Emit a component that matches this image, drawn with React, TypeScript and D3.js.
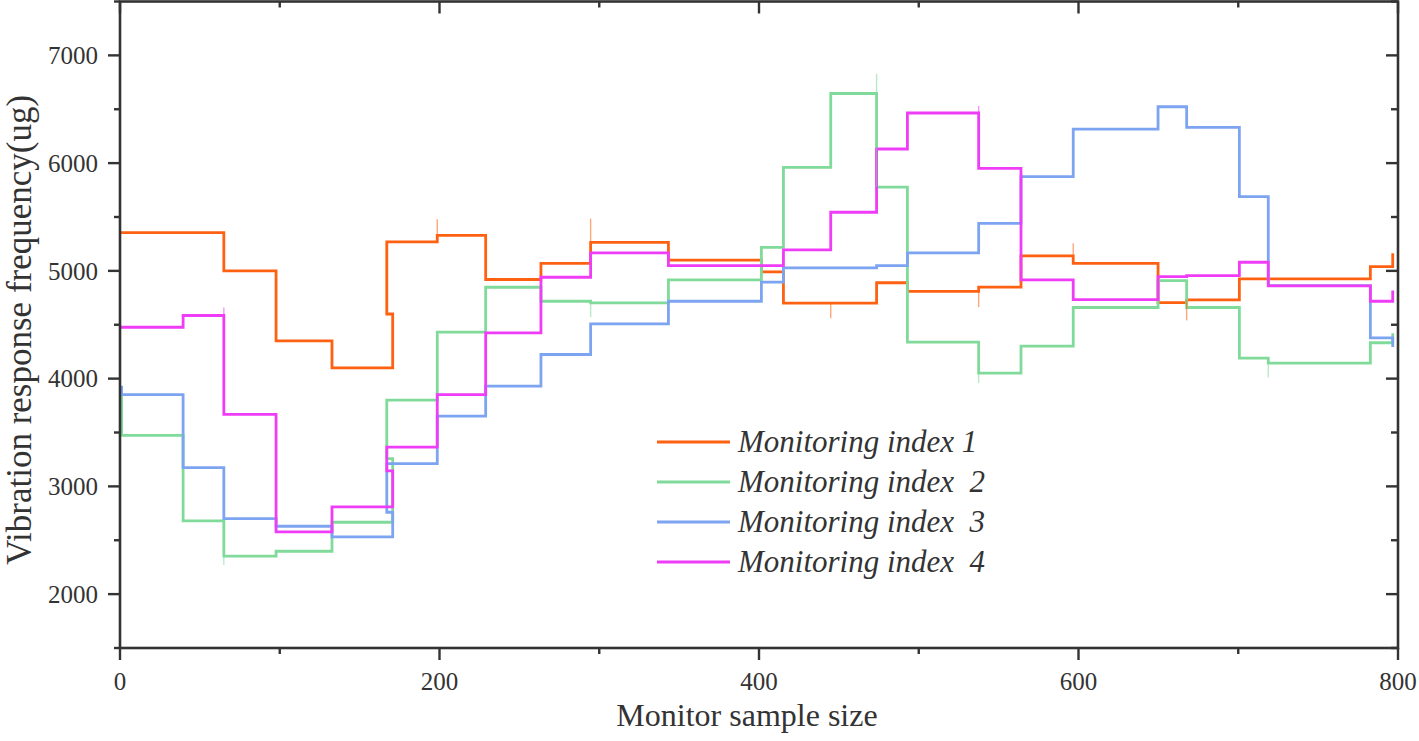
import React from "react";
import * as d3 from "d3";

// step positions along the sample axis (shared by all four series)
const stepX = [
  0, 1, 39.5, 65, 97.7, 132.7, 170.7, 167, 198.6, 228.9, 263.5, 294.6, 343.3,
  401.5, 415.3, 444.9, 473.6, 492.9, 537.5, 564, 596.7, 649.8, 667.7, 700.7,
  718.8, 782.7, 796.7,
];

const index1 = [
  5355, 5355, 5355, 5000, 4350, 4100, 4600, 5270, 5330, 4920, 5070, 5265, 5100,
  4990, 4700, 4700, 4890, 4810, 4850, 5140, 5070, 4706, 4731, 4926, 4926, 5040,
  5163,
];
const index2 = [
  3860, 3474, 2680, 2352, 2398, 2667, 3258, 3800, 4431, 4848, 4718, 4703, 4917,
  5219, 5960, 6646, 5778, 4339, 4051, 4302, 4660, 4910, 4660, 4190, 4144, 4333,
  4420,
];
const index3 = [
  3921, 3851, 3174, 2701, 2630, 2531, 2760, 3211, 3652, 3930, 4224, 4509, 4718,
  4895, 5028, 5028, 5049, 5167, 5441, 5874, 6316, 6523, 6331, 5689, 4864, 4379,
  4293,
];
const index4 = [
  4477, 4477, 4586, 3668, 2577, 2809, 3143, 3365, 3851, 4424, 4941, 5167, 5049,
  5049, 5195, 5544, 6131, 6465, 5952, 4917, 4734, 4947, 4956, 5080, 4861, 4718,
  4817,
];

// small glitch spikes seen in the picture: [series, x, peak]
const spikes: [number, number, number][] = [
  [0, 198.6, 5480],
  [0, 294.6, 5485],
  [0, 444.9, 4560],
  [0, 537.5, 4663],
  [0, 596.7, 5256],
  [0, 667.7, 4540],
  [1, 65, 2270],
  [1, 294.6, 4570],
  [1, 473.6, 6830],
  [1, 537.5, 3960],
  [1, 718.8, 4010],
  [3, 65, 4660],
  [3, 537.5, 6530],
];

const seriesNames = [
  "Monitoring index 1",
  "Monitoring index  2",
  "Monitoring index  3",
  "Monitoring index  4",
];
const colors = ["#ff6112", "#80da9a", "#7da4f1", "#ef3cf7"];

const xTicks = [0, 200, 400, 600, 800];
const xMinor = [100, 300, 500, 700];
const yTicks = [2000, 3000, 4000, 5000, 6000, 7000];
const yMinor = [1500, 2500, 3500, 4500, 5500, 6500, 7500];

const W = 1419;
const H = 741;
const left = 120;
const right = 1398;
const top = 1.5;
const bottom = 648;
const axisColor = "#333";
const font = "'Liberation Serif', 'Times New Roman', serif";

const App: React.FC = () => {
  const x = d3.scaleLinear().domain([0, 800]).range([left, right]);
  const y = d3.scaleLinear().domain([1500, 7500]).range([bottom, top]);

  const allSeries = [index1, index2, index3, index4];
  const line = d3
    .line<[number, number]>()
    .x((d) => x(d[0]))
    .y((d) => y(d[1]))
    .curve(d3.curveStepAfter);

  return (
    <svg
      width={W}
      height={H}
      style={{ position: "absolute", left: 0, top: 0, background: "#fff" }}
      fontFamily={font}
    >
      {/* series */}
      <g fill="none" strokeWidth={2.8} strokeLinejoin="miter">
        {allSeries.map((vals, i) => (
          <path
            key={i}
            d={line(vals.map((v, k) => [stepX[k], v] as [number, number])) || ""}
            stroke={colors[i]}
          />
        ))}
      </g>
      <g fill="none" strokeWidth={1.4} opacity={0.55}>
        {spikes.map(([s, sx, peak], i) => {
          const k = stepX.indexOf(sx);
          const base = allSeries[s][k];
          return (
            <line
              key={i}
              x1={x(sx)}
              x2={x(sx)}
              y1={y(base)}
              y2={y(peak)}
              stroke={colors[s]}
            />
          );
        })}
      </g>

      {/* frame */}
      <rect
        x={left}
        y={top}
        width={right - left}
        height={bottom - top}
        fill="none"
        stroke={axisColor}
        strokeWidth={2.6}
      />

      {/* ticks */}
      <g stroke={axisColor} strokeWidth={2.4}>
        {yTicks.map((t) => (
          <g key={t}>
            <line x1={left - 12} x2={left} y1={y(t)} y2={y(t)} />
            <line x1={right - 12} x2={right} y1={y(t)} y2={y(t)} />
          </g>
        ))}
        {yMinor.map((t) => (
          <g key={t}>
            <line x1={left - 6} x2={left} y1={y(t)} y2={y(t)} />
            <line x1={right - 7} x2={right} y1={y(t)} y2={y(t)} />
          </g>
        ))}
        {xTicks.map((t) => (
          <g key={t}>
            <line x1={x(t)} x2={x(t)} y1={bottom} y2={bottom + 12} />
            <line x1={x(t)} x2={x(t)} y1={top} y2={top + 12} />
          </g>
        ))}
        {xMinor.map((t) => (
          <g key={t}>
            <line x1={x(t)} x2={x(t)} y1={bottom} y2={bottom + 6} />
            <line x1={x(t)} x2={x(t)} y1={top} y2={top + 6} />
          </g>
        ))}
      </g>

      {/* tick labels */}
      <g fill={axisColor} fontSize={25}>
        {yTicks.map((t) => (
          <text key={t} x={98} y={y(t)} dy="0.35em" textAnchor="end">
            {t}
          </text>
        ))}
        {xTicks.map((t) => (
          <text key={t} x={x(t)} y={690} textAnchor="middle">
            {t}
          </text>
        ))}
      </g>

      {/* axis titles */}
      <text
        x={747}
        y={726}
        textAnchor="middle"
        fontSize={32}
        fill={axisColor}
      >
        Monitor sample size
      </text>
      <text
        transform={`translate(31,330) rotate(-90)`}
        textAnchor="middle"
        fontSize={35}
        fill={axisColor}
      >
        Vibration response frequency(ug)
      </text>

      {/* legend */}
      <g>
        {seriesNames.map((name, i) => (
          <g key={name} transform={`translate(657,${442 + i * 40})`}>
            <line x1={0} x2={73} y1={0} y2={0} stroke={colors[i]} strokeWidth={2.8} />
            <text
              x={81}
              y={10}
              fontSize={31}
              fontStyle="italic"
              fill={axisColor}
              style={{ whiteSpace: "pre" }}
            >
              {name}
            </text>
          </g>
        ))}
      </g>
    </svg>
  );
};

export default App;
